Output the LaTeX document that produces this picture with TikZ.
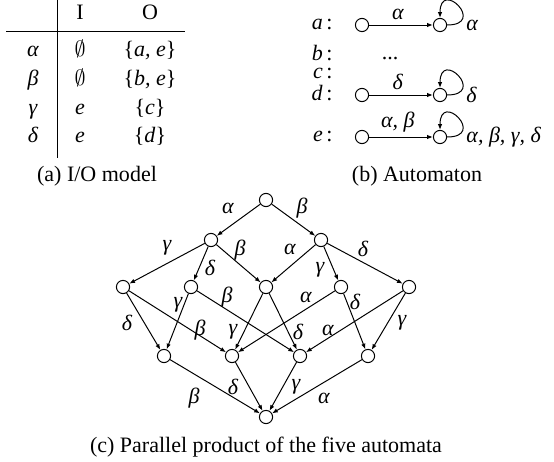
\documentclass[tikz,border=0pt]{standalone}
\usepackage{fontspec}
\setmainfont{Liberation Serif}
\usetikzlibrary{arrows.meta,positioning}

\begin{document}
\begin{tikzpicture}[x=0.4545pt,y=-0.4545pt,>={Latex[length=2.6pt,width=2pt]},
  st/.style={circle,draw,line width=0.45pt,minimum size=6pt,inner sep=0pt},
  lab/.style={font=\itshape,inner sep=0pt},
  arr/.style={->,line width=0.45pt}]
\useasboundingbox (0,0) rectangle (554,461);

% (a) I/O model
\draw[line width=0.45pt] (57,0) -- (57,158);
\draw[line width=0.45pt] (6,31) -- (185,31);
\node[anchor=base] (hI) at (80,20) {I}; \node[anchor=base] (hO) at (150,20) {O};
\foreach \ev/\inp/\outp [count=\i] in {α/{$\emptyset$}/{a, e},β/{$\emptyset$}/{b, e},γ/{\textit{e}}/c,δ/{\textit{e}}/d}{
  \node[anchor=base,font=\itshape] (ev\i) at (33,28.5+28.5*\i) {\ev};
  \node[anchor=base] (in\i) at (80,28.5+28.5*\i) {\inp};
  \node[anchor=base] (out\i) at (150,28.5+28.5*\i) {\{\textit{\outp}\}};
}
\node (capa) at (97,176) {(a) I/O model};

% (b) Automaton
\foreach \n/\yy in {a/30,b/61,c/79,d/100,e/142}
  \node[anchor=base east,inner sep=0pt] (row\n) at (333,\yy) {\textit{\n}\,:};
\node[anchor=base] (dots) at (390,60) {...};
\foreach \n/\yy/\ed/\lp in {a/25/α/α,d/95/δ/δ,e/137/{α, β}/{α, β, γ, δ}}{
  \node[st] (s\n) at (362,\yy) {};
  \node[st] (t\n) at (440,\yy) {};
  \draw[arr] (s\n) -- node[lab,above=2pt,pos=0.45] {\ed} (t\n);
  \draw[arr] (t\n.east) .. controls +(40,0) and +(0,-40) .. (t\n.north);
  \node[lab,anchor=west] (l\n) at (466,\yy) {\lp};
}
\node (capb) at (417,176) {(b) Automaton};

% (c) parallel product
\node[st] (t) at (266,200) {};
\node[st] (p) at (211,240) {}; \node[st] (q) at (321,240) {};
\foreach \i/\xx in {1/123,2/191,3/266,4/341,5/409} \node[st] (m\i) at (\xx,287) {};
\foreach \i/\xx in {1/164,2/232,3/300,4/368} \node[st] (n\i) at (\xx,356) {};
\node[st] (f) at (266,417) {};
\foreach \a/\b in {t/p,t/q,p/m1,p/m2,p/m3,q/m3,q/m4,q/m5,m1/n1,m1/n2,m2/n1,m2/n3,
  m3/n2,m3/n3,m4/n2,m4/n4,m5/n3,m5/n4,n1/f,n2/f,n3/f,n4/f}
  \draw[arr] (\a) -- (\b);
\foreach \xx/\yy/\txt [count=\k] in {228/208/α,302/208/β,167/248/γ,210/268/δ,240/250/β,
  290/249/α,320/270/γ,363/249/δ,178/305/γ,227/297/β,306/297/α,355/302/δ,127/323/δ,
  200/330/β,233/332/γ,298/332/δ,328/330/α,402/323/γ,194/398/β,233/387/δ,296/387/γ,324/398/α}
  \node[lab] (e\k) at (\xx,\yy) {\txt};
\node (capc) at (266,447) {(c) Parallel product of the five automata};
\end{tikzpicture}
\end{document}
